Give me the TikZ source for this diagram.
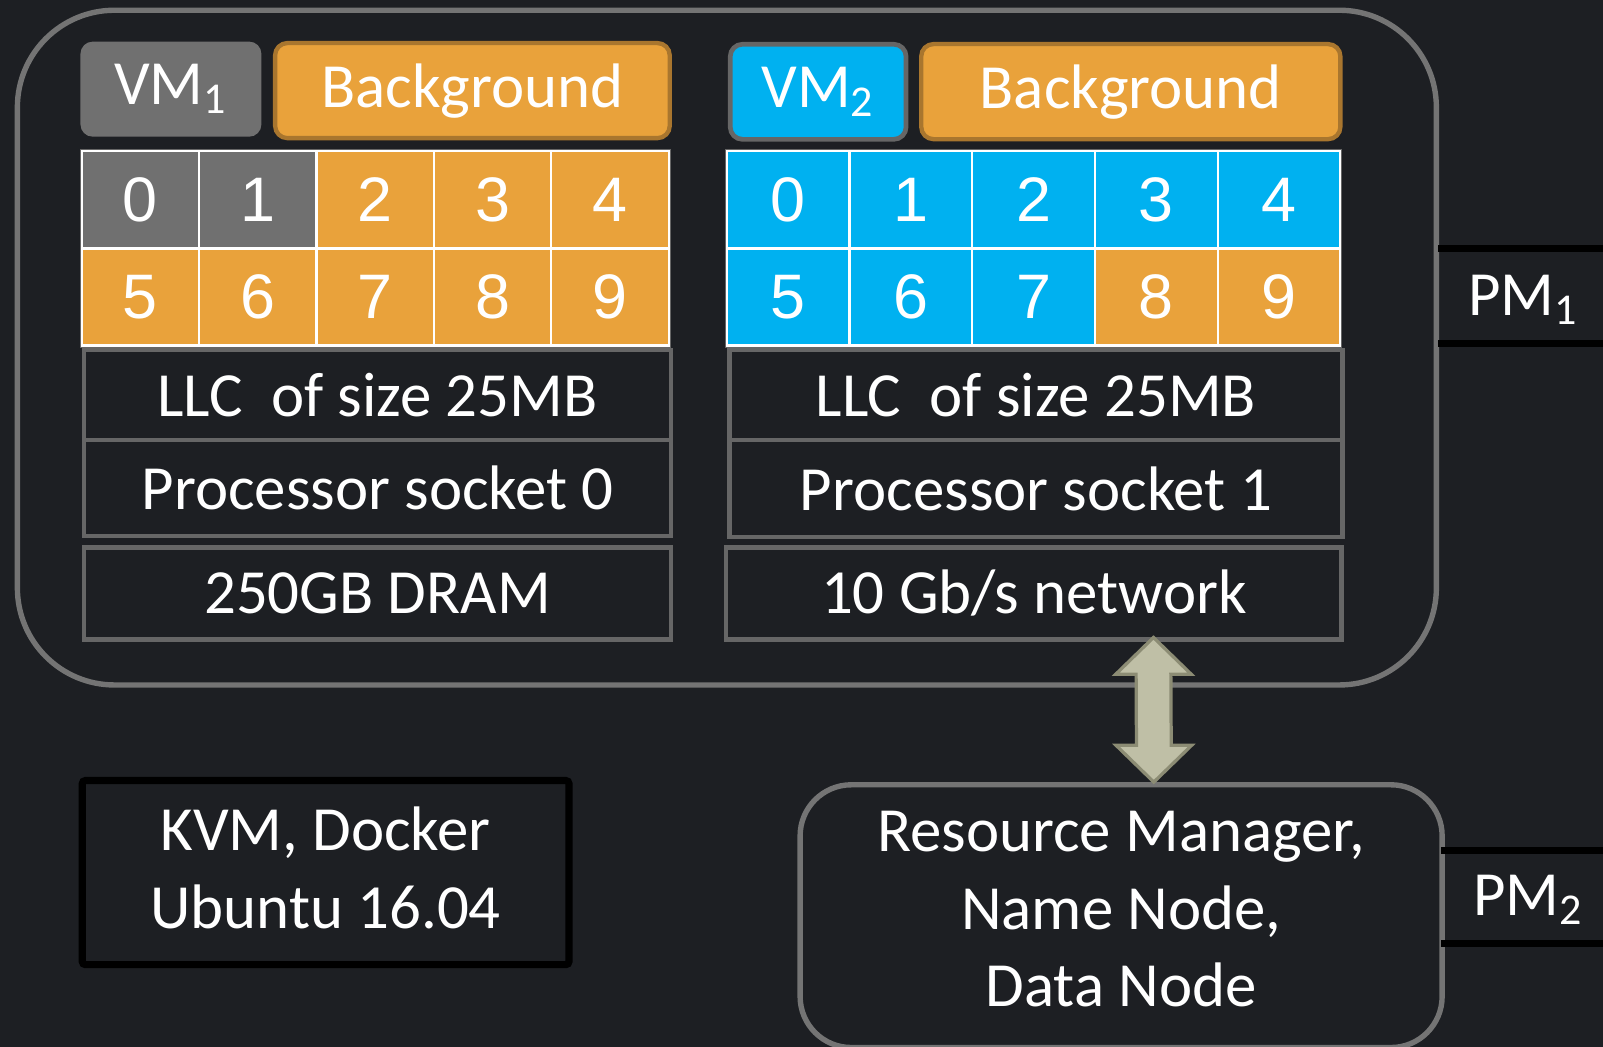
\documentclass[tikz,border=0pt]{standalone}
\usepackage{fontspec}
\setmainfont{Carlito}
\newfontfamily\digitfont{Liberation Sans}
\usetikzlibrary{positioning,calc}

\definecolor{bgdark}{HTML}{1D1F23}
\definecolor{framegray}{HTML}{747474}
\definecolor{boxgray}{HTML}{666666}
\definecolor{vmgray}{HTML}{707070}
\definecolor{bgorange}{HTML}{E9A23B}
\definecolor{orangeedge}{HTML}{A9762E}
\definecolor{vmcyan}{HTML}{00B1F0}
\definecolor{linkfill}{HTML}{BFBFA6}
\definecolor{linkedge}{HTML}{8C8C74}

\tikzset{
  lbl/.style={text=white, font=\fontsize{17.5}{21.6}\selectfont, align=center},
  tag/.style={lbl, rounded corners=0.12cm, minimum height=0.93cm, inner sep=0pt, anchor=north west},
  cell/.style={draw=white, line width=0.6pt, minimum height=0.95cm, inner sep=0pt,
    text=white, font=\digitfont\fontsize{17.5}{18}\selectfont},
  layer/.style={lbl, draw=boxgray, line width=1.3pt, fill=bgdark, inner sep=0pt, anchor=north west},
  pmline/.style={black, line width=2pt},
  link/.style={fill=linkfill, draw=linkedge, line width=0.9pt, line join=miter}
}

\begin{document}
\begin{tikzpicture}[x=1cm, y=-1cm]

\fill[bgdark] (0,0) rectangle (15.68,10.24);
\useasboundingbox (0,0) rectangle (15.68,10.24);

% physical machine 1
\draw[framegray, line width=1.5pt, rounded corners=0.95cm] (0.17,0.10) rectangle (14.05,6.70);

\node[tag, fill=vmgray, minimum width=1.77cm] (vmone) at (0.78,0.40) {VM\textsubscript{1}};
\node[tag, fill=bgorange, draw=orangeedge, line width=1.2pt, minimum width=3.86cm] (bgone) at (2.67,0.40) {Background};
\node[tag, fill=vmcyan, draw=boxgray, line width=1.3pt, minimum width=1.72cm] (vmtwo) at (7.12,0.41) {VM\textsubscript{2}};
\node[tag, fill=bgorange, draw=orangeedge, line width=1.2pt, minimum width=4.10cm] (bgtwo) at (8.99,0.41) {Background};

% cache ways, socket 0
\fill[boxgray] (0.78,1.46) rectangle (6.56,3.40);
\foreach \n/\f [evaluate=\n as \col using {int(mod(\n,5))}, evaluate=\n as \row using {int(\n/5)}]
  in {0/vmgray,1/vmgray,2/bgorange,3/bgorange,4/bgorange,5/bgorange,6/bgorange,7/bgorange,8/bgorange,9/bgorange}
  \node[cell, fill=\f, minimum width=1.148cm] (wa\n) at ({0.80+1.148*(\col+0.5)},{1.48+0.95*(\row+0.5)}) {\n};

% cache ways, socket 1
\fill[boxgray] (7.09,1.46) rectangle (13.13,3.40);
\foreach \n/\f [evaluate=\n as \col using {int(mod(\n,5))}, evaluate=\n as \row using {int(\n/5)}]
  in {0/vmcyan,1/vmcyan,2/vmcyan,3/vmcyan,4/vmcyan,5/vmcyan,6/vmcyan,7/vmcyan,8/bgorange,9/bgorange}
  \node[cell, fill=\f, minimum width=1.2cm] (wb\n) at ({7.11+1.2*(\col+0.5)},{1.48+0.95*(\row+0.5)}) {\n};

\node[layer, minimum width=5.74cm, minimum height=0.88cm] (llcone) at (0.80,3.40) {LLC~~of size 25MB};
\node[layer, minimum width=5.74cm, minimum height=0.94cm, below=-1.3pt of llcone] (sockone) {Processor socket 0};
\node[layer, minimum width=5.74cm, minimum height=0.90cm] (dram) at (0.80,5.33) {250GB DRAM};

\node[layer, minimum width=6.00cm, minimum height=0.88cm] (llctwo) at (7.11,3.40) {LLC~~of size 25MB};
\node[layer, minimum width=6.00cm, minimum height=0.95cm, below=-1.3pt of llctwo] (socktwo) {Processor socket 1};
\node[layer, minimum width=6.02cm, minimum height=0.90cm] (net) at (7.08,5.33) {10 Gb/s network};

\draw[pmline] (14.07,2.43) -- (15.68,2.43);
\draw[pmline] (14.07,3.36) -- (15.68,3.36);
\node[lbl] (pmone) at (14.90,2.93) {PM\textsubscript{1}};

% physical machine 2
\node[lbl, draw=framegray, line width=1.5pt, rounded corners=0.5cm, fill=bgdark, text depth=0.14cm,
  minimum width=6.28cm, minimum height=2.57cm, anchor=north west] (rm) at (7.80,7.65)
  {Resource Manager,\\Name Node,\\Data Node};

\draw[pmline] (14.10,8.32) -- (15.68,8.32);
\draw[pmline] (14.10,9.23) -- (15.68,9.23);
\node[lbl] (pmtwo) at (14.95,8.80) {PM\textsubscript{2}};

\node[lbl, draw=black, line width=2pt, rounded corners=0.03cm, minimum width=4.76cm, text depth=0.10cm,
  minimum height=1.80cm, anchor=north west] (kvm) at (0.77,7.60) {KVM, Docker\\Ubuntu 16.04};

% network link
\coordinate (linktop) at ([xshift=1.17cm, yshift=0.04cm]net.south);
\coordinate (linkbot) at ([xshift=0.32cm]rm.north);
\draw[link] (linktop) -- ++(0.37,0.36) -- ++(-0.20,0) -- ($(linkbot)+(0.17,-0.36)$) -- ++(0.20,0)
  -- (linkbot) -- ++(-0.37,-0.36) -- ++(0.20,0) -- ($(linktop)+(-0.17,0.36)$) -- ++(-0.20,0) -- cycle;

\end{tikzpicture}
\end{document}
